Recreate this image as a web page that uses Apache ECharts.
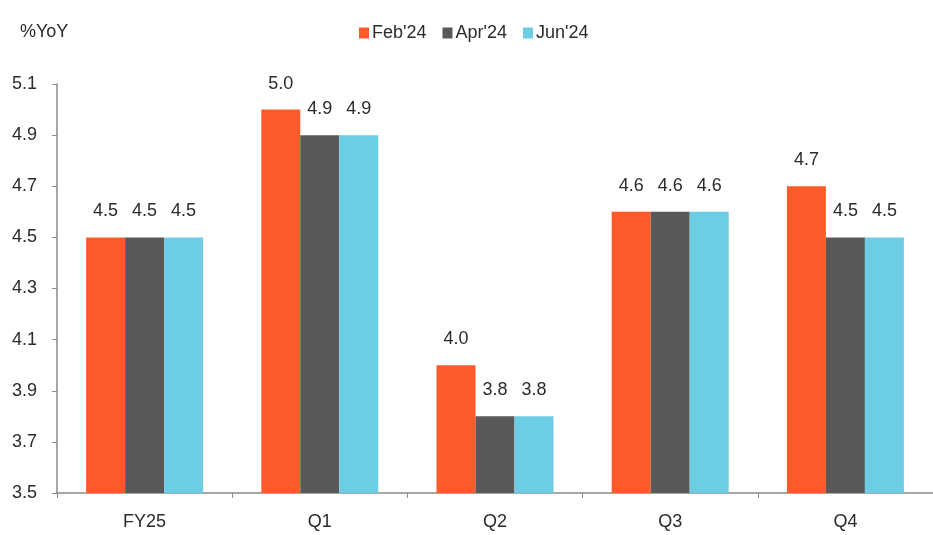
<!DOCTYPE html>
<html><head><meta charset="utf-8">
<script src="https://cdn.jsdelivr.net/npm/echarts@6/dist/echarts.min.js"></script>
<style>html,body{margin:0;padding:0;background:#fff}#c{width:933px;height:535px}</style>
</head><body><div id="c"></div>
<script>
var categories = ["FY25", "Q1", "Q2", "Q3", "Q4"];
var seriesNames = ["Feb'24", "Apr'24", "Jun'24"];
var feb24 = [4.5, 5.0, 4.0, 4.6, 4.7];
var apr24 = [4.5, 4.9, 3.8, 4.6, 4.5];
var jun24 = [4.5, 4.9, 3.8, 4.6, 4.5];
var yTicks = {min: 3.5, max: 5.1, interval: 0.2};
var unitLabel = "%YoY";

var FONT = "'Liberation Sans Narrow','Liberation Sans',Arial,sans-serif";
var TXT = '#2b2b2b';
var colors = ["#FF5A2A", "#595959", "#6DCDE4"];
var chart = echarts.init(document.getElementById('c'), null, {renderer: 'canvas'});
function mk(name, data, i) {
  return {
    name: name, type: 'bar', data: data, barWidth: 39, barGap: '0%',
    itemStyle: {color: colors[i]},
    label: {show: true, position: 'top', distance: 17, color: TXT,
      fontFamily: FONT, fontSize: 18,
      formatter: function (p) { return p.value.toFixed(1); }}
  };
}
chart.setOption({
  animation: false,
  color: colors,
  textStyle: {fontFamily: FONT},
  title: {text: unitLabel, left: 15, top: 18,
    textStyle: {fontFamily: FONT, fontSize: 18, fontWeight: 'normal', color: TXT}},
  legend: {left: 354, top: 19, itemWidth: 10, itemHeight: 11, itemGap: 16, icon: 'rect',
    textStyle: {fontFamily: FONT, fontSize: 18, color: TXT, padding: [0, 0, 0, -2]},
    data: seriesNames},
  grid: {left: 57, right: -11, top: 84, bottom: 42, containLabel: false},
  xAxis: {type: 'category', data: categories,
    axisLine: {lineStyle: {color: '#8a8a8a', width: 1.5}},
    axisTick: {show: true, alignWithLabel: false, length: 5, lineStyle: {color: '#8a8a8a'}},
    axisLabel: {color: TXT, fontFamily: FONT, fontSize: 18, margin: 20},
    splitLine: {show: false}},
  yAxis: {type: 'value', min: yTicks.min, max: yTicks.max, interval: yTicks.interval,
    axisLine: {show: true, lineStyle: {color: '#8a8a8a', width: 1.5}},
    axisTick: {show: true, length: 5, lineStyle: {color: '#8a8a8a'}},
    axisLabel: {color: TXT, fontFamily: FONT, fontSize: 18, margin: 20,
      formatter: function (v) { return v.toFixed(1); }},
    splitLine: {show: false}},
  series: [mk(seriesNames[0], feb24, 0), mk(seriesNames[1], apr24, 1), mk(seriesNames[2], jun24, 2)]
});
</script></body></html>
